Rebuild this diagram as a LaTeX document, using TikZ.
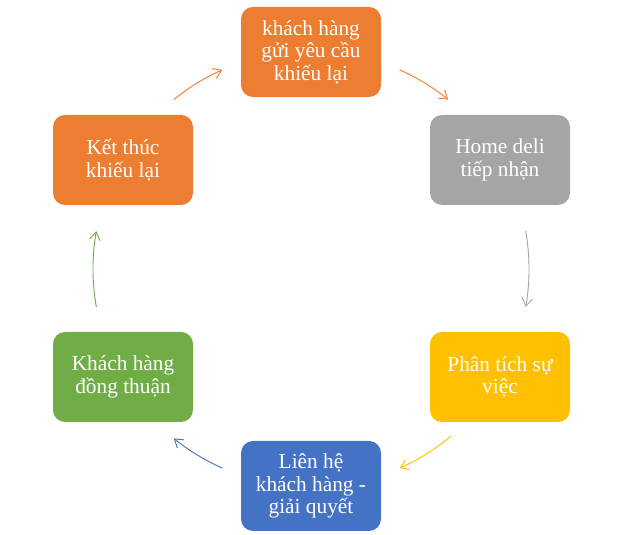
\documentclass[tikz,border=0pt]{standalone}
\usepackage{fontspec}
\setmainfont{Liberation Serif}
\usetikzlibrary{arrows.meta,calc}
\definecolor{borange}{HTML}{ED7D31}
\definecolor{bgray}{HTML}{A5A5A5}
\definecolor{bgold}{HTML}{FFC000}
\definecolor{bblue}{HTML}{4472C4}
\definecolor{bgreen}{HTML}{70AD47}
\tikzset{
  >={Straight Barb[length=6pt,width=8pt]},
  stage/.style={rectangle, rounded corners=9pt, minimum width=105pt, minimum height=67.5pt,
                inner sep=2pt, text=white, align=center, font=\fontsize{16}{16.8}\selectfont},
  flow/.style ={->, line width=0.7pt}
}
\begin{document}
\begin{tikzpicture}[x=0.75pt,y=0.75pt]
\useasboundingbox (0,0) rectangle (625,535);
\coordinate (c) at (311,266);
\node[stage, fill=borange] (send)    at (311,483) {khách hàng\\gửi yêu cầu\\khiếu lại};
\node[stage, fill=bgray]   (receive) at (500,375) {Home deli\\tiếp nhận};
\node[stage, fill=bgold]   (analyse) at (500,158) {Phân tích sự\\việc};
\node[stage, fill=bblue]   (contact) at (311,49)  {Liên hệ\\khách hàng -\\giải quyết};
\node[stage, fill=bgreen]  (agree)   at (123,158) {Khách hàng\\đồng thuận};
\node[stage, fill=borange] (finish)  at (123,375) {Kết thúc\\khiếu lại};
\coordinate (finish-out)  at ($(c)+(129:218)$);
\coordinate (send-out)    at ($(c)+(66:218)$);
\coordinate (receive-out) at ($(c)+(10:218)$);
\coordinate (analyse-out) at ($(c)+(-50:218)$);
\coordinate (contact-out) at ($(c)+(-114:218)$);
\coordinate (agree-out)   at ($(c)+(190:218)$);
\draw[flow, borange] (finish-out)  arc[start angle=129,  end angle=114,  radius=163.5pt];
\draw[flow, borange] (send-out)    arc[start angle=66,   end angle=51,   radius=163.5pt];
\draw[flow, bgray]   (receive-out) arc[start angle=10,   end angle=-10,  radius=163.5pt];
\draw[flow, bgold]   (analyse-out) arc[start angle=-50,  end angle=-66,  radius=163.5pt];
\draw[flow, bblue]   (contact-out) arc[start angle=-114, end angle=-129, radius=163.5pt];
\draw[flow, bgreen]  (agree-out)   arc[start angle=190,  end angle=170,  radius=163.5pt];
\end{tikzpicture}
\end{document}
